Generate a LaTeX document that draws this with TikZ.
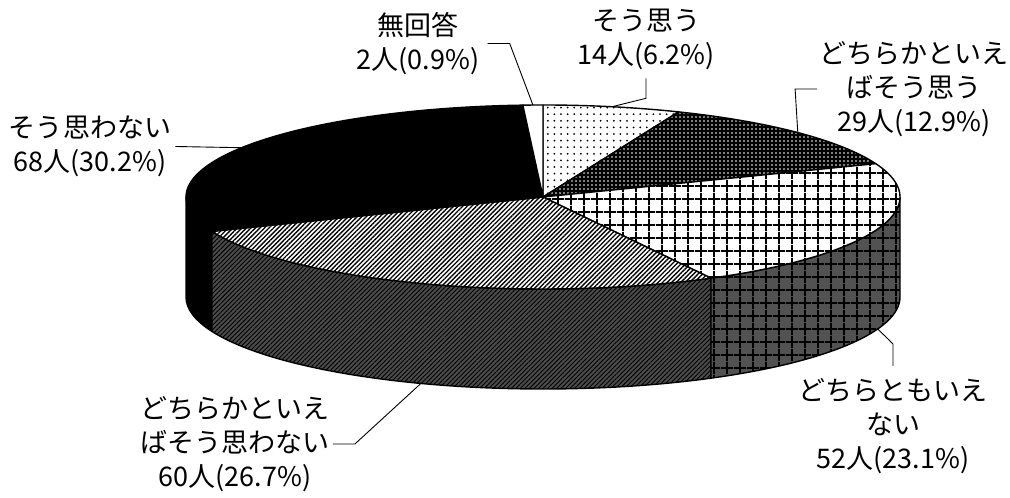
\documentclass[tikz,border=0pt]{standalone}
\usepackage{fontspec}
\newfontfamily\jpfont{Noto Sans CJK JP}
\usetikzlibrary{patterns.meta}

\newcommand\topface[2]{(543,300) -- ++(#1:357 and 92) arc[start angle=#1,end angle=#2,x radius=357,y radius=92] -- cycle}
\newcommand\sideface[2]{(543,300) ++(#1:357 and 92) arc[start angle=#1,end angle=#2,x radius=357,y radius=92] -- ++(0,-100) arc[start angle=#2,end angle=#1,x radius=357,y radius=92] -- cycle}

\begin{document}
\begin{tikzpicture}[x=0.5pt,y=0.5pt,
  lbl/.style={font=\jpfont\fontsize{13.5}{17}\selectfont,align=center,inner sep=0pt},
  leader/.style={line width=0.45pt},
  rim/.style={line width=0.7pt,line join=round},
  nashi/.style={rim,fill=white},
  omou/.style={rim,preaction={fill=white},pattern={Dots[distance=3.3pt,radius=0.5pt]},pattern color=black},
  yaomou/.style={rim,preaction={fill=black},pattern={Dots[distance=2pt,radius=0.45pt]},pattern color=white},
  dochira/.style={rim,preaction={fill=white},pattern={Hatch[distance=6.5pt,line width=0.9pt]},pattern color=black},
  dochiraside/.style={rim,preaction={fill=black!68},pattern={Hatch[distance=6.5pt,line width=0.9pt]},pattern color=black},
  yaomowanai/.style={rim,preaction={fill=white},pattern={Lines[angle=45,distance=1.6pt,line width=0.68pt]},pattern color=black},
  yaomowanaiside/.style={rim,preaction={fill=black!70},pattern={Lines[angle=45,distance=1.6pt,line width=0.45pt]},pattern color=black},
  omowanai/.style={rim,fill=black}]
\useasboundingbox (0,0) rectangle (1010,497);
\draw[omowanai] \sideface{180}{201.96};
\draw[yaomowanaiside] \sideface{201.96}{298.08};
\draw[dochiraside] \sideface{298.08}{360};
\draw[omou] \topface{90}{67.68};
\draw[yaomou] \topface{67.68}{21.24};
\draw[dochira] \topface{21.24}{-61.92};
\draw[yaomowanai] \topface{-61.92}{-158.04};
\draw[omowanai] \topface{201.96}{93.24};
\draw[nashi] \topface{93.24}{90};
\path (543,300) ++(91.62:357 and 92) coordinate (p-nashi);
\path (543,300) ++(78.84:357 and 92) coordinate (p-omou);
\path (543,300) ++(44.46:357 and 92) coordinate (p-yaomou);
\path (543,300) ++(147.6:357 and 92) coordinate (p-omowanai);
\path (543,200) ++(250:357 and 92) coordinate (p-yaomowanai);
\path (543,200) ++(-20.34:357 and 92) coordinate (p-dochira);
\node[lbl] (l-nashi) at (418,453.5) {無回答\\2人(0.9\%)};
\node[lbl] (l-omou) at (646,457.5) {そう思う\\14人(6.2\%)};
\node[lbl] (l-yaomou) at (914,408) {どちらかといえ\\ばそう思う\\29人(12.9\%)};
\node[lbl] (l-omowanai) at (90,350.5) {そう思わない\\68人(30.2\%)};
\node[lbl] (l-yaomowanai) at (235,53) {どちらかといえ\\ばそう思わない\\60人(26.7\%)};
\node[lbl] (l-dochira) at (893,71) {どちらともいえ\\ない\\52人(23.1\%)};
\draw[leader] (l-nashi.east) ++(8,0) -- ++(22,0) -- (p-nashi);
\draw[leader] (l-omou.south) ++(0,-8) -- ++(0,-20) -- (p-omou);
\draw[leader] (l-yaomou.west) ++(-2,0) -- ++(-22,0) -- (p-yaomou);
\draw[leader] (l-omowanai.east) ++(4,0) -- (p-omowanai);
\draw[leader] (l-yaomowanai.east) ++(3,0) -- ++(22,0) -- (p-yaomowanai);
\draw[leader] (l-dochira.north) ++(0,12) -- ++(0,22) -- (p-dochira);
\end{tikzpicture}
\end{document}
